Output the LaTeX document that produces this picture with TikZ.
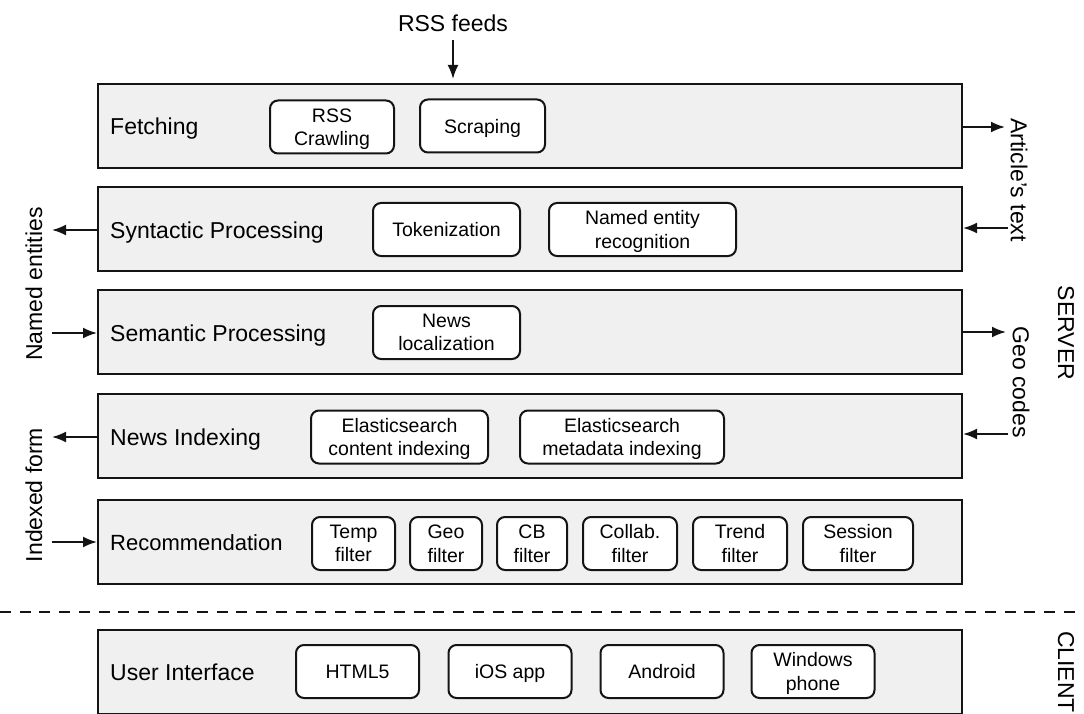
\documentclass[tikz,border=0pt]{standalone}
\usepackage{fontspec}
\setmainfont{Liberation Sans}
\usetikzlibrary{arrows.meta}
\definecolor{layerfill}{RGB}{240,240,240}
\definecolor{ink}{RGB}{20,20,20}
\begin{document}
\begin{tikzpicture}[x=1pt,y=-1pt,
  layer/.style={draw=ink, line width=2pt, fill=layerfill,
    minimum width=864pt, minimum height=84pt, inner sep=0pt},
  layername/.style={anchor=base west, inner sep=0pt, font=\fontsize{23}{27}\selectfont},
  part/.style={draw=ink, line width=2pt, fill=white, rounded corners=8pt,
    inner sep=0pt, align=center, minimum height=53pt, text depth=0pt,
    font=\fontsize{19.5}{23.5}\selectfont},
  side/.style={inner sep=0pt, font=\fontsize{23}{27}\selectfont},
  flow/.style={draw=ink, line width=2pt, -{Latex[length=14pt,width=11pt]}},
  split/.style={draw=ink, line width=2pt, dash pattern=on 11pt off 8.7pt},
]
\useasboundingbox (0,0) rectangle (1084,714);

% ---------- server layers ----------
\node[layer] (fetch) at (530,126) {};
\node[layername] (fetchL) at (110,135) {Fetching};
\node[part, minimum width=124pt] (crawl) at (332,127) {RSS\\Crawling};
\node[part, minimum width=125pt] (scrape) at (482.5,126) {Scraping};

\node[layer] (syn) at (530,229) {};
\node[layername] (synL) at (110,238) {Syntactic Processing};
\node[part, minimum width=147pt] (token) at (446.5,229.5) {Tokenization};
\node[part, minimum width=187pt] (ner) at (642.5,229.5) {Named entity\\recognition};

\node[layer] (sem) at (530,332) {};
\node[layername] (semL) at (110,341) {Semantic Processing};
\node[part, minimum width=147pt] (loc) at (446.5,332.5) {News\\localization};

\node[layer] (idx) at (530,436) {};
\node[layername] (idxL) at (110,445) {News Indexing};
\node[part, minimum width=177pt] (escont) at (399.5,437) {Elasticsearch\\content indexing};
\node[part, minimum width=204pt] (esmeta) at (622,437) {Elasticsearch\\metadata indexing};

\node[layer] (rec) at (530,542) {};
\node[layername, font=\fontsize{22}{26}\selectfont] (recL) at (110,550.5) {Recommendation};
\node[part, minimum width=83pt]  (ftemp)  at (353.5,543.5) {Temp\\filter};
\node[part, minimum width=72pt]  (fgeo)   at (446,543.5)   {Geo\\filter};
\node[part, minimum width=70pt]  (fcb)    at (532,543.5)   {CB\\filter};
\node[part, minimum width=94pt]  (fcoll)  at (630,543.5)   {Collab.\\filter};
\node[part, minimum width=94pt]  (ftrend) at (740,543.5)   {Trend\\filter};
\node[part, minimum width=110pt] (fsess)  at (858,543.5)   {Session\\filter};

% ---------- client layer ----------
\node[layer] (ui) at (530,671.5) {};
\node[layername] (uiL) at (110,680.5) {User Interface};
\node[part, minimum width=123pt] (html) at (357.5,671.5) {HTML5};
\node[part, minimum width=123pt] (ios)  at (510,671.5)   {iOS app};
\node[part, minimum width=123pt] (andr) at (662,671.5)   {Android};
\node[part, minimum width=123pt] (wph)  at (813,671.5)   {Windows\\phone};

% ---------- server / client split ----------
\coordinate (splitL) at (0,612);
\coordinate (splitR) at (1084,612);
\draw[split] (splitL) -- (splitR);

\node[side, rotate=-90] (server) at (1066,333) {SERVER};
\node[side, rotate=-90] (client) at (1066,672) {CLIENT};

% ---------- data flowing in and out ----------
\node[side, anchor=base] (rss) at (453,32) {RSS feeds};
\draw[flow, shorten >=4pt] ([yshift=-8pt]rss.south) -- (rss.south |- fetch.north);

\node[side, rotate=-90] (art) at (1019,180) {Article's text};
\coordinate (artOut) at (1005,127);
\coordinate (artIn) at (1008,228);
\draw[flow] (fetch.east |- artOut) -- (artOut);
\draw[flow] (artIn) -- (syn.east |- artIn);

\node[side, rotate=-90] (geo) at (1021,382) {Geo codes};
\coordinate (geoOut) at (1006,332);
\coordinate (geoIn) at (1008,434);
\draw[flow] (sem.east |- geoOut) -- (geoOut);
\draw[flow] (geoIn) -- (idx.east |- geoIn);

\node[side, rotate=90] (ne) at (34,284) {Named entities};
\coordinate (neOut) at (52,230);
\coordinate (neIn) at (52,333);
\draw[flow] (syn.west |- neOut) -- (neOut);
\draw[flow] (neIn) -- (sem.west |- neIn);

\node[side, rotate=90] (ixf) at (34,495) {Indexed form};
\coordinate (ixOut) at (52,437);
\coordinate (ixIn) at (52,542);
\draw[flow] (idx.west |- ixOut) -- (ixOut);
\draw[flow] (ixIn) -- (rec.west |- ixIn);
\end{tikzpicture}
\end{document}
